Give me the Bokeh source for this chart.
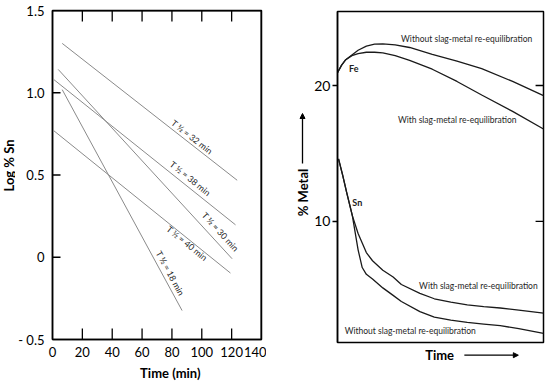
import math
from bokeh.plotting import figure
from bokeh.models import (Range1d, FixedTicker, Label, Arrow, NormalHead, ColumnDataSource)
from bokeh.core.properties import value
from bokeh.layouts import row, column
from bokeh.embed import file_html
from bokeh.resources import INLINE

FONT = "Lato"

# ---------------- Left chart data (log % Sn vs time) ----------------
half_life_labels = ["T ½ = 32 min", "T ½ = 38 min", "T ½ = 30 min", "T ½ = 40 min", "T ½ = 18 min"]
t_start = [6.5, 0.9, 3.8, 0.9, 6.5]
t_end = [123.7, 122.6, 120.3, 119.2, 86.8]
log_start = [1.30, 1.08, 1.142, 0.769, 1.019]
log_end = [0.468, 0.197, -0.009, -0.096, -0.324]
x_ticks = [0, 20, 40, 60, 80, 100, 120, 140]
y_ticks = [-0.5, 0, 0.5, 1.0, 1.5]
y_tick_labels = ["- 0.5", "0", "0.5", "1.0", "1.5"]

# ---------------- Right chart data (% metal vs time) ----------------
fe_time = [0, 2, 4, 7, 10, 14, 18, 22, 28, 35, 46, 58, 70, 85, 100]
fe_without = [20.95, 21.5, 21.9, 22.25, 22.6, 22.9, 23.05, 23.07, 23.0, 22.8, 22.3, 21.8, 21.25, 20.3, 19.25]
fe_with = [20.95, 21.5, 21.9, 22.2, 22.35, 22.45, 22.45, 22.4, 22.2, 21.85, 21.2, 20.3, 19.3, 18.1, 16.8]
sn_time = [0.5, 2.5, 4.5, 7.2, 10, 12, 14, 17, 22, 27, 31, 40, 47, 55, 63, 71, 79, 88, 100]
sn_with = [14.6, 13.4, 12.1, 10.42, 9.1, 8.4, 7.7, 7.1, 6.4, 5.9, 5.35, 4.7, 4.3, 4.05, 3.85, 3.72, 3.62, 3.47, 3.25]
sn_without = [14.6, 13.4, 12.1, 10.42, 7.9, 6.6, 6.1, 5.75, 5.1, 4.55, 4.1, 3.35, 2.95, 2.72, 2.56, 2.44, 2.32, 2.1, 1.75]
metal_ticks = [10, 20]

# layout of the slanted half-life labels (x, y, angle in degrees)
lab_x = [93.6, 92.4, 112.5, 90.2, 79.0]
lab_y = [0.732, 0.48, 0.156, 0.086, -0.096]
lab_ang = [-38, -39, -47.5, -39, -61.6]

TICK_KW = dict(line_color="black", line_width=1.3)
TITLE_KW = dict(text_font=FONT, text_font_size="13px", text_font_style="bold",
                text_color="black", text_align="center", text_baseline="middle")


def style_axis(ax, size="13px"):
    ax.major_label_text_font = FONT
    ax.major_label_text_font_size = size
    ax.major_label_text_color = "black"
    ax.axis_line_color = "black"
    ax.axis_line_width = 1.5
    ax.major_tick_line_color = "black"
    ax.major_tick_line_width = 1.3
    ax.minor_tick_line_color = None


def blank_panel(w, h):
    f = figure(width=w, height=h, x_range=Range1d(0, w), y_range=Range1d(h, 0),
               output_backend="svg", toolbar_location=None,
               x_axis_location=None, y_axis_location=None, min_border=0)
    f.grid.visible = False
    f.outline_line_color = None
    return f


# ---------------- geometry (px) ----------------
PL_W = 15                       # panel holding the "Log % Sn" title
B1_L, FW1, B1_R = 37, 209, 5
B1_T, FH1, B1_B = 10, 329, 26
H1 = B1_T + FH1 + B1_B
PT_H = 17                       # panel holding "Time (min)"
MW = 45                         # panel holding "% Metal" + arrow
B2_L, FW2, B2_R = 24, 208, 3
B2_T, FH2, B2_B = 11, 331, 4
PB_H = 24                       # panel holding "Time" + arrow
P1W = B1_L + FW1 + B1_R

# ---------------- Left title panel ----------------
pl = blank_panel(PL_W, H1 + PT_H)
pl.add_layout(Label(x=8, y=165, text="Log % Sn", angle=math.pi / 2, **TITLE_KW))

# ---------------- Left figure ----------------
X1 = Range1d(0, 140)
Y1 = Range1d(-0.5, 1.5)
p1 = figure(width=P1W, height=H1, x_range=X1, y_range=Y1,
            output_backend="svg", toolbar_location=None,
            min_border_left=B1_L, min_border_right=B1_R,
            min_border_top=B1_T, min_border_bottom=B1_B)
p1.grid.visible = False
p1.outline_line_color = "black"
p1.outline_line_width = 1.5

xa = p1.xaxis[0]
style_axis(xa)
xa.ticker = FixedTicker(ticks=x_ticks)
xa.major_tick_in = 0
xa.major_tick_out = 0
xa.major_label_standoff = 7

ya = p1.yaxis[0]
style_axis(ya)
ya.ticker = FixedTicker(ticks=y_ticks)
ya.major_label_overrides = {v: s for v, s in zip(y_ticks, y_tick_labels)}
ya.major_tick_in = 0
ya.major_tick_out = 0
ya.major_label_standoff = 8

# frame edges (top and right) as glyphs, in case the outline is not painted
p1.segment(x0=[X1.start, X1.end], y0=[Y1.end, Y1.start], x1=[X1.end, X1.end], y1=[Y1.end, Y1.end],
           line_color="black", line_width=2)

# inward tick marks (top & bottom 11 px, left 8 px), placed at the tick values
inner_x = x_ticks[1:-1]
inner_y = [v for v in y_ticks if Y1.start < v < Y1.end]
ty = 11 * (Y1.end - Y1.start) / FH1
tx = 8 * (X1.end - X1.start) / FW1
p1.segment(x0=inner_x, y0=[Y1.start] * len(inner_x), x1=inner_x,
           y1=[Y1.start + ty] * len(inner_x), **TICK_KW)
p1.segment(x0=inner_x, y0=[Y1.end] * len(inner_x), x1=inner_x,
           y1=[Y1.end - ty] * len(inner_x), **TICK_KW)
p1.segment(x0=[X1.start] * len(inner_y), y0=inner_y, x1=[X1.start + tx] * len(inner_y),
           y1=inner_y, **TICK_KW)

seg_src = ColumnDataSource(dict(x0=t_start, y0=log_start, x1=t_end, y1=log_end))
p1.segment("x0", "y0", "x1", "y1", source=seg_src, line_color="#8a8a8a", line_width=1)

# slanted labels drawn as a text glyph (last, so nothing is drawn after them)
lab_src = ColumnDataSource(dict(x=lab_x, y=lab_y, text=half_life_labels,
                                angle=[math.radians(a) for a in lab_ang]))
p1.text(x="x", y="y", text="text", angle="angle", source=lab_src,
        text_font=value(FONT), text_font_size="8.7px", text_color="#262626",
        text_align="center", text_baseline="middle")

# ---------------- "Time (min)" panel under the left figure ----------------
pt = blank_panel(P1W, PT_H)
pt.add_layout(Label(x=B1_L + FW1 / 2, y=7, text="Time (min)", **TITLE_KW))

# ---------------- Middle panel: "% Metal" with arrow ----------------
H2 = B2_T + FH2 + B2_B
pm = blank_panel(MW, H2 + PB_H)
pm.add_layout(Label(x=36, y=192, text="% Metal", angle=math.pi / 2, **TITLE_KW))
pm.add_layout(Arrow(x_start=36, y_start=163, x_end=36, y_end=113,
                    line_color="black", line_width=1.3,
                    end=NormalHead(size=5, fill_color="black", line_color="black")))

# ---------------- Right figure ----------------
X2 = Range1d(0, 100)
Y2 = Range1d(1.08, 25.45)
P2W = B2_L + FW2 + B2_R
p2 = figure(width=P2W, height=H2, x_range=X2, y_range=Y2,
            output_backend="svg", toolbar_location=None, x_axis_location=None,
            min_border_left=B2_L, min_border_right=B2_R, min_border_top=B2_T,
            min_border_bottom=B2_B)
p2.grid.visible = False
p2.outline_line_color = "black"
p2.outline_line_width = 1.5

ya2 = p2.yaxis[0]
style_axis(ya2, "14px")
ya2.ticker = FixedTicker(ticks=metal_ticks)
ya2.major_tick_in = 0
ya2.major_tick_out = 5
ya2.major_label_standoff = 2

tx2 = 8 * (X2.end - X2.start) / FW2
p2.segment(x0=[X2.end] * len(metal_ticks), y0=metal_ticks,
           x1=[X2.end - tx2] * len(metal_ticks), y1=metal_ticks, **TICK_KW)

curve_kw = dict(line_color="#1a1a1a", line_width=1.3)
p2.line(fe_time, fe_without, **curve_kw)
p2.line(fe_time, fe_with, **curve_kw)
p2.line(sn_time, sn_with, **curve_kw)
p2.line(sn_time, sn_without, **curve_kw)

small = dict(text_font=FONT, text_font_size="8.5px", text_color="#262626",
             text_align="center", text_baseline="middle")
p2.add_layout(Label(x=62.7, y=23.39, text="Without slag-metal re-equilibration", **small))
p2.add_layout(Label(x=58.1, y=17.49, text="With slag-metal re-equilibration", **small))
p2.add_layout(Label(x=68.4, y=5.26, text="With slag-metal re-equilibration", **small))
p2.add_layout(Label(x=35.3, y=1.95, text="Without slag-metal re-equilibration", **small))
bold_small = dict(text_font=FONT, text_font_size="9px", text_font_style="bold",
                  text_color="#222222", text_align="left", text_baseline="middle")
p2.add_layout(Label(x=5.6, y=21.25, text="Fe", **bold_small))
p2.add_layout(Label(x=7.2, y=11.4, text="Sn", **bold_small))

# ---------------- Bottom panel: "Time" with arrow ----------------
pb = blank_panel(P2W, PB_H)
x_off = PL_W + P1W + MW
pb.add_layout(Label(x=427.5 - x_off, y=8, text="Time", **TITLE_KW))
pb.add_layout(Arrow(x_start=455.7 - x_off, y_start=8.7, x_end=517.3 - x_off, y_end=8.7,
                    line_color="black", line_width=1.3,
                    end=NormalHead(size=5, fill_color="black", line_color="black")))

layout = row(pl, column(p1, pt), pm, column(p2, pb))
open("out.html", "w").write(file_html(layout, INLINE))
